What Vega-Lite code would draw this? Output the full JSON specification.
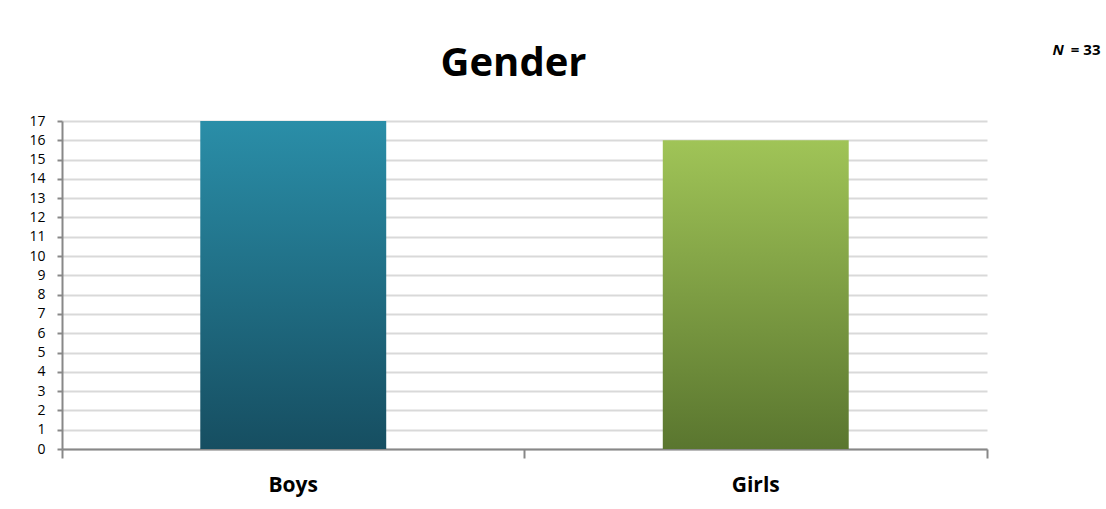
{
  "$schema": "https://vega.github.io/schema/vega-lite/v6.json",
  "width": 925,
  "height": 328,
  "autosize": {"type": "none"},
  "padding": {"left": 62, "top": 121, "right": 119, "bottom": 60},
  "background": "white",
  "data": {
    "values": [
      {"gender": "Boys", "count": 17},
      {"gender": "Girls", "count": 16}
    ]
  },
  "layer": [
    {
      "transform": [{"filter": "datum.gender === 'Boys'"}],
      "mark": {
        "type": "bar",
        "width": {"band": 0.402},
        "color": {
          "gradient": "linear",
          "x1": 0, "y1": 0, "x2": 0, "y2": 1,
          "stops": [
            {"offset": 0, "color": "#2a8ea8"},
            {"offset": 1, "color": "#164e61"}
          ]
        }
      },
      "encoding": {
        "x": {
          "field": "gender",
          "type": "nominal",
          "scale": {"domain": ["Boys", "Girls"], "paddingInner": 0, "paddingOuter": 0},
          "axis": {
            "orient": "bottom",
            "title": null,
            "labelAngle": 0,
            "labelFont": "Open Sans",
            "labelFontSize": 21,
            "labelFontWeight": "bold",
            "labelColor": "#000000",
            "labelPadding": 16,
            "bandPosition": 1,
            "tickExtra": true,
            "tickSize": 9,
            "tickWidth": 2,
            "tickColor": "#888888",
            "domainColor": "#888888",
            "domainWidth": 2,
            "grid": false
          }
        },
        "y": {
          "field": "count",
          "type": "quantitative",
          "scale": {"domain": [0, 17], "nice": false},
          "axis": {
            "orient": "left",
            "title": "N",
            "titleFont": "Open Sans",
            "titleFontSize": 15,
            "titleFontWeight": "bold",
            "titleFontStyle": "italic",
            "titleColor": "#000000",
            "titleAngle": 0,
            "titleAlign": "left",
            "titleBaseline": "alphabetic",
            "titleX": 990,
            "titleY": -67,
            "values": [0,1,2,3,4,5,6,7,8,9,10,11,12,13,14,15,16,17],
            "labelFont": "Open Sans",
            "labelFontSize": 14,
            "labelColor": "#000000",
            "labelPadding": 12,
            "tickSize": 5,
            "tickWidth": 2,
            "tickColor": "#888888",
            "domainColor": "#888888",
            "domainWidth": 2,
            "grid": true,
            "gridColor": "#d9d9d9",
            "gridWidth": 2
          }
        }
      }
    },
    {
      "transform": [{"filter": "datum.gender === 'Girls'"}],
      "mark": {
        "type": "bar",
        "width": {"band": 0.402},
        "color": {
          "gradient": "linear",
          "x1": 0, "y1": 0, "x2": 0, "y2": 1,
          "stops": [
            {"offset": 0, "color": "#a0c457"},
            {"offset": 1, "color": "#5a762f"}
          ]
        }
      },
      "encoding": {
        "x": {
          "field": "gender",
          "type": "nominal",
          "scale": {"domain": ["Boys", "Girls"], "paddingInner": 0, "paddingOuter": 0},
          "axis": {
            "orient": "top",
            "title": "Gender",
            "titleFont": "Open Sans",
            "titleFontSize": 40,
            "titleFontWeight": "bold",
            "titleColor": "#000000",
            "titleAlign": "center",
            "titleBaseline": "alphabetic",
            "titleX": 451,
            "titleY": -46,
            "labels": false,
            "ticks": false,
            "domain": false,
            "grid": false
          }
        },
        "y": {
          "field": "count",
          "type": "quantitative",
          "scale": {"domain": [0, 17], "nice": false},
          "axis": {
            "orient": "right",
            "title": "= 33",
            "titleFont": "Open Sans",
            "titleFontSize": 15,
            "titleFontWeight": "bold",
            "titleColor": "#000000",
            "titleAngle": 0,
            "titleAlign": "right",
            "titleBaseline": "alphabetic",
            "titleX": 113,
            "titleY": -67,
            "labels": false,
            "ticks": false,
            "domain": false,
            "grid": false
          }
        }
      }
    }
  ],
  "resolve": {"scale": {"x": "independent", "y": "independent"}},
  "config": {"view": {"stroke": null}, "font": "Open Sans"}
}
